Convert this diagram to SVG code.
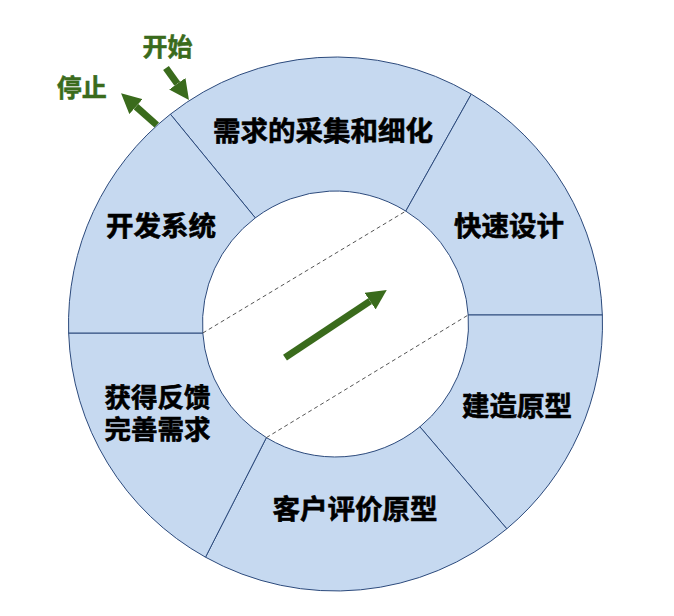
<svg xmlns="http://www.w3.org/2000/svg" width="674" height="616" viewBox="0 0 674 616">
<defs>
<style>
.seg{fill:#c6d9f0;stroke:#2c4a7c;stroke-width:1}
.lbl{font-family:"Noto Sans CJK SC","Noto Sans",sans-serif;font-weight:bold;font-size:27.5px;fill:#000;stroke:#000;stroke-width:0.6;text-anchor:middle}
.glbl{font-family:"Noto Sans CJK SC","Noto Sans",sans-serif;font-weight:bold;font-size:25px;fill:#3a6b1c;stroke:#3a6b1c;stroke-width:0.5;text-anchor:middle}
.dash{stroke:#555;stroke-width:1;stroke-dasharray:4 3;fill:none}
.garrow{stroke:#3a6b1c;stroke-width:7;fill:none;marker-end:url(#ah)}
</style>
<marker id="ah" markerUnits="userSpaceOnUse" markerWidth="20" markerHeight="20" viewBox="0 0 20 20" refX="0" refY="10" orient="auto">
<path d="M0,0 L20,10 L0,20 Z" fill="#3a6b1c"/>
</marker>
</defs>
<rect width="674" height="616" fill="#fff"/>
<g id="seg-requirements">
<path class="seg" d="M170.4,114.2 A267,267 0 0 1 471.3,94.1 L405.8,211.1 A133,133 0 0 0 255.3,217.9 Z"/>
<text class="lbl" x="323" y="141">需求的采集和细化</text>
</g>
<g id="seg-design">
<path class="seg" d="M471.3,94.1 A267,267 0 0 1 602.35,315 L468.2,315 A133,133 0 0 0 405.8,211.1 Z"/>
<text class="lbl" x="509" y="236">快速设计</text>
</g>
<g id="seg-build">
<path class="seg" d="M602.35,315 A267,267 0 0 1 506.8,528.8 L419.9,426.8 A133,133 0 0 0 468.2,315 Z"/>
<text class="lbl" x="517" y="416">建造原型</text>
</g>
<g id="seg-evaluate">
<path class="seg" d="M506.8,528.8 A267,267 0 0 1 205.5,557.2 L266.4,437.6 A133,133 0 0 0 419.9,426.8 Z"/>
<text class="lbl" x="355" y="518.5">客户评价原型</text>
</g>
<g id="seg-feedback">
<path class="seg" d="M205.5,557.2 A267,267 0 0 1 68.65,333 L202.8,333 A133,133 0 0 0 266.4,437.6 Z"/>
<text class="lbl" style="font-size:26.5px"><tspan x="157.5" y="407">获得反馈</tspan><tspan x="157.5" y="438.5">完善需求</tspan></text>
</g>
<g id="seg-develop">
<path class="seg" d="M68.65,333 A267,267 0 0 1 170.4,114.2 L255.3,217.9 A133,133 0 0 0 202.8,333 Z"/>
<text class="lbl" x="161" y="235.5">开发系统</text>
</g>
<g id="start">
<text class="glbl" x="167.5" y="56">开始</text>
</g>
<g id="stop">
<text class="glbl" x="81.7" y="96.8">停止</text>
</g>
<g id="connectors">
<line class="dash" x1="202.8" y1="333" x2="405.8" y2="211.1"/>
<line class="dash" x1="266.4" y1="437.6" x2="468.2" y2="315"/>
<line class="garrow" x1="285" y1="357.7" x2="370.1" y2="301.1"/>
<line class="garrow" x1="166" y1="68" x2="177.3" y2="83.8"/>
<line class="garrow" x1="156.7" y1="125" x2="136" y2="106.6"/>
</g>
</svg>
